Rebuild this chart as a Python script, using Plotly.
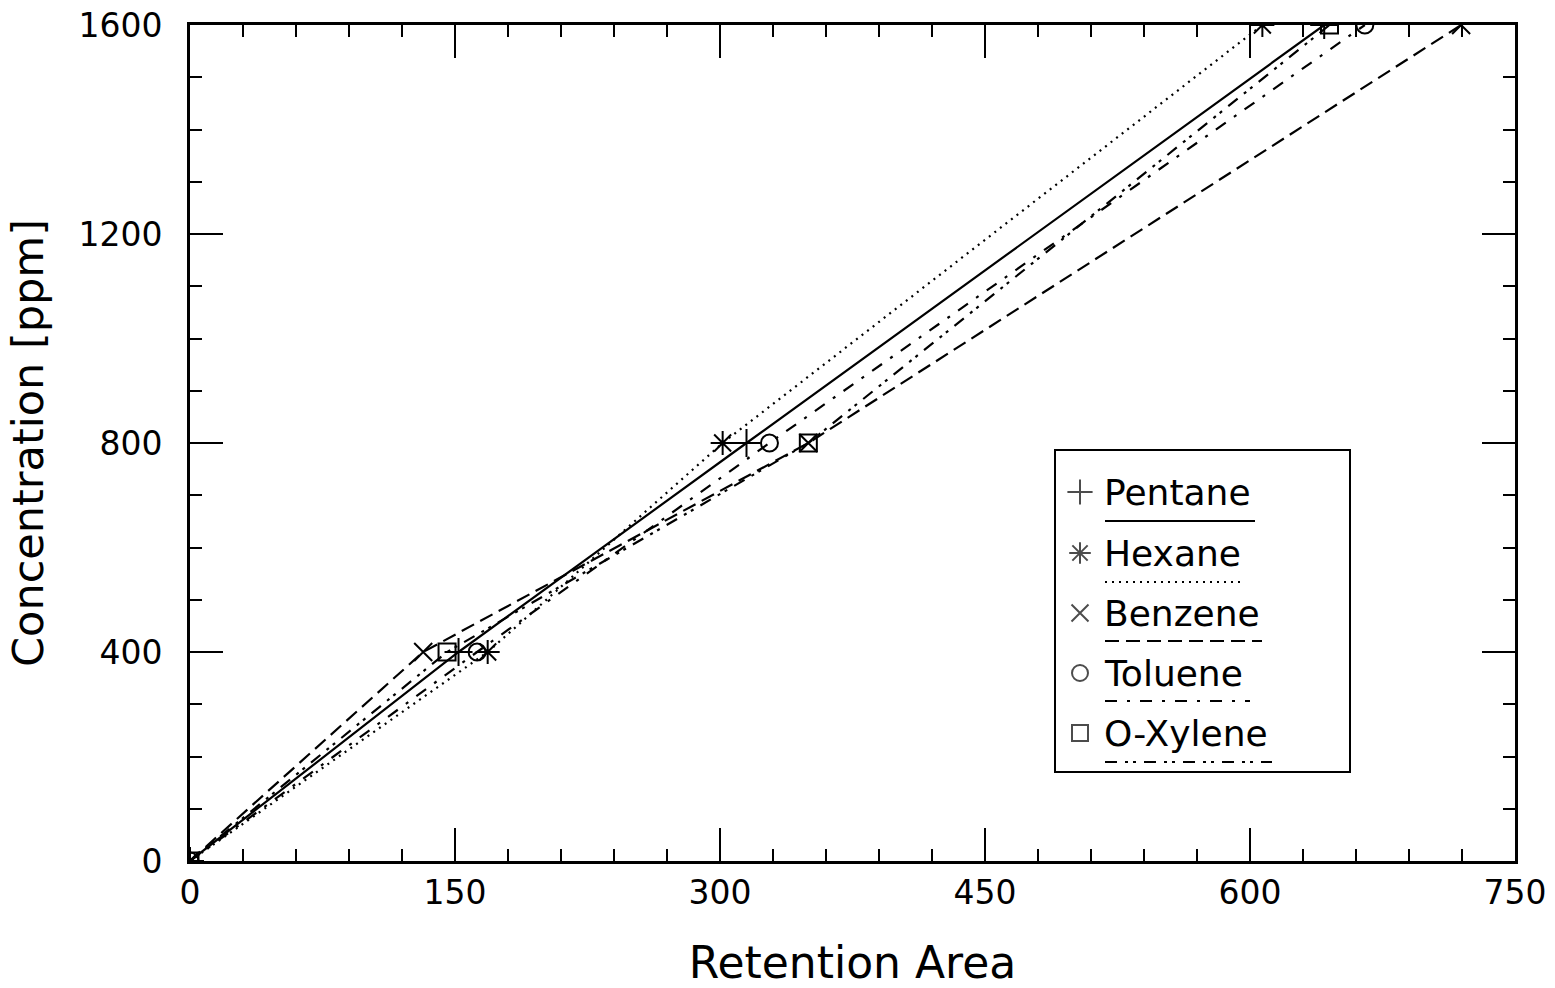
import plotly.graph_objects as go

# ---- data ----
concentration = [0, 400, 800, 1600]
pentane = [0, 152, 315, 642]
hexane = [0, 168.5, 301.5, 607]
benzene = [0, 132, 350, 719.5]
toluene = [0, 162.5, 328, 665]
oxylene = [0, 145.5, 350, 645]

series_names = ["Pentane", "Hexane", "Benzene", "Toluene", "O-Xylene"]
series_x = [pentane, hexane, benzene, toluene, oxylene]
symbols = ["cross-thin-open", "asterisk-open", "x-thin-open", "circle-open", "square-open"]
marker_sizes = [20, 20, 18, 17, 17]
dashes = ["solid", "2px,5px", "14px,7px", "12px,10px,3px,10px", "12px,8px,3px,5px,3px,8px"]

FONT = "DejaVu Sans, sans-serif"
X_RANGE = [0, 750]
Y_RANGE = [0, 1600]

fig = go.Figure()
for name, xs, sym, ms, dash in zip(series_names, series_x, symbols, marker_sizes, dashes):
    fig.add_trace(go.Scatter(
        x=xs, y=concentration, mode="lines+markers", name=name,
        line=dict(color="black", width=2.2, dash=dash),
        marker=dict(symbol=sym, size=ms, color="black", line=dict(color="black", width=2)),
        showlegend=False, cliponaxis=True,
    ))

# ---- custom legend (plot area 190..1515 x 25..861 px) ----
PX0, PW, PY0, PH = 190, 1325, 25, 836
def fx(px):
    return (px - PX0) / PW
def fy(py):
    return 1 - (py - PY0) / PH

text_rows = [492, 553, 613, 673, 733]
line_rows = [521, 582, 641, 701, 762]
line_ends = [1255, 1243, 1262, 1250, 1272]

fig.add_shape(type="rect", xref="paper", yref="paper", x0=fx(1055), x1=fx(1350),
              y0=fy(772), y1=fy(450), line=dict(color="black", width=2),
              fillcolor="rgba(0,0,0,0)", layer="above")
for i, (name, dash) in enumerate(zip(series_names, dashes)):
    fig.add_shape(type="line", xref="paper", yref="paper", x0=fx(1105), x1=fx(line_ends[i]),
                  y0=fy(line_rows[i]), y1=fy(line_rows[i]),
                  line=dict(color="black", width=2, dash=dash), layer="above")
    fig.add_annotation(x=fx(1102), y=fy(text_rows[i]), xref="paper", yref="paper", text=name,
                       showarrow=False, xanchor="left", yanchor="middle",
                       font=dict(family=FONT, size=36, color="black"))

# legend symbols, placed in the main axes at legend-box positions
leg_x = [X_RANGE[0] + fx(1080) * (X_RANGE[1] - X_RANGE[0])] * 5
leg_y = [Y_RANGE[0] + fy(r) * (Y_RANGE[1] - Y_RANGE[0]) for r in text_rows]
fig.add_trace(go.Scatter(
    x=leg_x, y=leg_y, mode="markers",
    marker=dict(symbol=symbols, size=[18, 18, 17, 16, 16], color="black",
                line=dict(color="black", width=2)),
    showlegend=False, hoverinfo="skip",
))

axis_common = dict(
    ticks="inside", ticklen=33, tickwidth=2, tickcolor="black",
    showline=True, linewidth=3, linecolor="black", mirror="allticks",
    showgrid=False, zeroline=False, automargin=False,
    tickfont=dict(family=FONT, size=33, color="black"),
)

fig.update_layout(
    width=1555, height=988,
    margin=dict(l=190, r=40, t=25, b=127),
    paper_bgcolor="white", plot_bgcolor="white",
    xaxis=dict(range=X_RANGE, tick0=0, dtick=150,
               minor=dict(dtick=30, ticklen=12, tickwidth=2, ticks="inside", tickcolor="black"),
               title=dict(text="Retention Area", font=dict(family=FONT, size=44, color="black"), standoff=40),
               ticklabelstandoff=0, **axis_common),
    yaxis=dict(range=Y_RANGE, tick0=0, dtick=400,
               minor=dict(dtick=100, ticklen=12, tickwidth=2, ticks="inside", tickcolor="black"),
               title=dict(text="Concentration [ppm]", font=dict(family=FONT, size=43, color="black"), standoff=22),
               ticklabelstandoff=18, **axis_common),
)

fig.write_html("out.html")
